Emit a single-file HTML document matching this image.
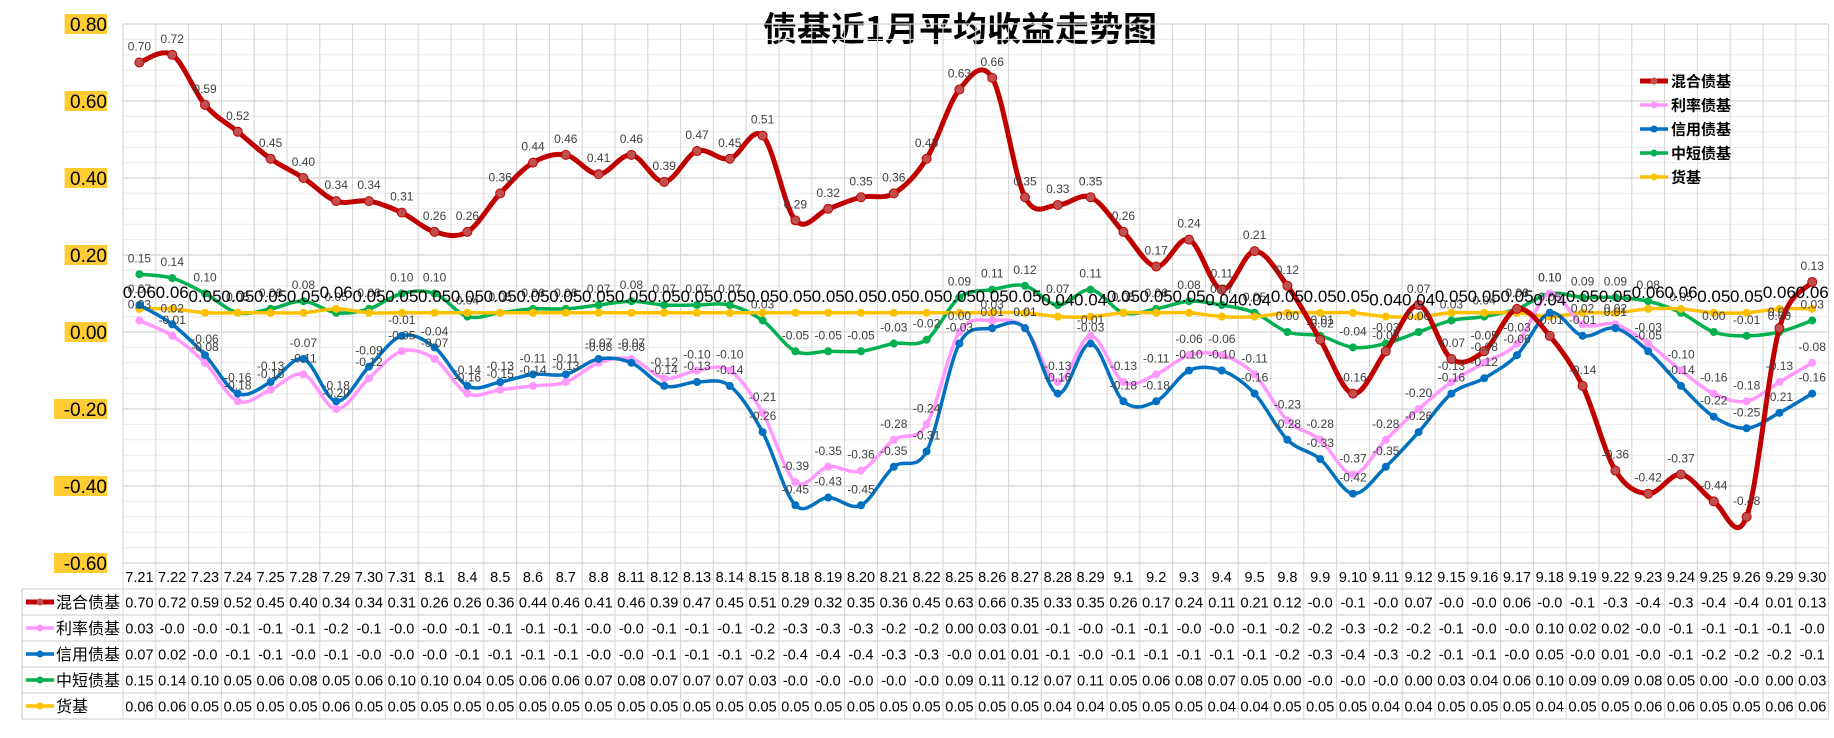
<!DOCTYPE html>
<html><head><meta charset="utf-8">
<style>
body{margin:0;background:#fff;}
svg text{font-family:"Liberation Sans","Noto Sans CJK SC",sans-serif;}
</style></head>
<body>
<svg id="chart" width="1834" height="733" viewBox="0 0 1834 733" xmlns="http://www.w3.org/2000/svg">
<rect width="1834" height="733" fill="#fff"/>
<text x="960" y="41" text-anchor="middle" font-size="34" font-weight="bold" style="font-family:'Noto Sans CJK SC',sans-serif">债基近1月平均收益走势图</text>
<g id="grid"></g><g id="yaxis"></g><g id="series"></g><g id="labels"></g><g id="table"></g><g id="legend"></g>
</svg>
<script>
const categories=["7.21","7.22","7.23","7.24","7.25","7.28","7.29","7.30","7.31","8.1","8.4","8.5","8.6","8.7","8.8","8.11","8.12","8.13","8.14","8.15","8.18","8.19","8.20","8.21","8.22","8.25","8.26","8.27","8.28","8.29","9.1","9.2","9.3","9.4","9.5","9.8","9.9","9.10","9.11","9.12","9.15","9.16","9.17","9.18","9.19","9.22","9.23","9.24","9.25","9.26","9.29","9.30"];
const seriesNames=["混合债基","利率债基","信用债基","中短债基","货基"];
const mixedVals=[0.70,0.72,0.59,0.52,0.45,0.40,0.34,0.34,0.31,0.26,0.26,0.36,0.44,0.46,0.41,0.46,0.39,0.47,0.45,0.51,0.29,0.32,0.35,0.36,0.45,0.63,0.66,0.35,0.33,0.35,0.26,0.17,0.24,0.11,0.21,0.12,-0.02,-0.16,-0.05,0.07,-0.07,-0.05,0.06,-0.01,-0.14,-0.36,-0.42,-0.37,-0.44,-0.48,0.01,0.13];
const rateVals=[0.03,-0.01,-0.08,-0.18,-0.15,-0.11,-0.20,-0.12,-0.05,-0.07,-0.16,-0.15,-0.14,-0.13,-0.08,-0.07,-0.12,-0.10,-0.10,-0.21,-0.39,-0.35,-0.36,-0.28,-0.24,0.00,0.03,0.01,-0.13,-0.01,-0.13,-0.11,-0.06,-0.06,-0.11,-0.23,-0.28,-0.37,-0.28,-0.20,-0.13,-0.08,-0.03,0.10,0.02,0.02,-0.03,-0.10,-0.16,-0.18,-0.13,-0.08];
const creditVals=[0.07,0.02,-0.06,-0.16,-0.13,-0.07,-0.18,-0.09,-0.01,-0.04,-0.14,-0.13,-0.11,-0.11,-0.07,-0.08,-0.14,-0.13,-0.14,-0.26,-0.45,-0.43,-0.45,-0.35,-0.31,-0.03,0.01,0.01,-0.16,-0.03,-0.18,-0.18,-0.10,-0.10,-0.16,-0.28,-0.33,-0.42,-0.35,-0.26,-0.16,-0.12,-0.06,0.05,-0.01,0.01,-0.05,-0.14,-0.22,-0.25,-0.21,-0.16];
const shortVals=[0.15,0.14,0.10,0.05,0.06,0.08,0.05,0.06,0.10,0.10,0.04,0.05,0.06,0.06,0.07,0.08,0.07,0.07,0.07,0.03,-0.05,-0.05,-0.05,-0.03,-0.02,0.09,0.11,0.12,0.07,0.11,0.05,0.06,0.08,0.07,0.05,0.00,-0.01,-0.04,-0.03,0.00,0.03,0.04,0.06,0.10,0.09,0.09,0.08,0.05,0.00,-0.01,0.00,0.03];
const moneyVals=[0.06,0.06,0.05,0.05,0.05,0.05,0.06,0.05,0.05,0.05,0.05,0.05,0.05,0.05,0.05,0.05,0.05,0.05,0.05,0.05,0.05,0.05,0.05,0.05,0.05,0.05,0.05,0.05,0.04,0.04,0.05,0.05,0.05,0.04,0.04,0.05,0.05,0.05,0.04,0.04,0.05,0.05,0.05,0.04,0.05,0.05,0.06,0.06,0.05,0.05,0.06,0.06];
const yTicks=[0.8,0.6,0.4,0.2,0,-0.2,-0.4,-0.6];

const NS="http://www.w3.org/2000/svg";
const PL=123,PR=1828.6,PT=24,PB=563,Y0=332,YS=385;
const colW=(PR-PL)/categories.length;
const xAt=i=>PL+colW*(i+0.5);
const yAt=v=>Y0-v*YS;
function mk(tag,attrs,parent){const e=document.createElementNS(NS,tag);for(const k in attrs)e.setAttribute(k,attrs[k]);parent.appendChild(e);return e;}
const grid=document.getElementById('grid');
for(let v=-0.6;v<=0.8001;v+=0.04){const y=yAt(v);const major=Math.abs(Math.round(v*100)%20)<0.5;
 const l=mk('line',{x1:PL,x2:PR,y1:y,y2:y,stroke:major?'#d4d4d4':'#ececec','stroke-width':major?1.3:1},grid);
 
 }
for(let i=0;i<=categories.length;i++){const x=PL+colW*i;
 const l=mk('line',{x1:x,x2:x,y1:PT,y2:719,stroke:'#d4d4d4','stroke-width':1},grid);
 
 }
mk('line',{x1:PL,x2:PL,y1:PT,y2:PB,stroke:'#bcd4ea','stroke-width':1},grid);
const yax=document.getElementById('yaxis');
yTicks.forEach(v=>{const y=yAt(v);const t=v.toFixed(2);
 const r=mk('rect',{x:107-t.length*10.6,y:y-10,width:t.length*10.6,height:20,fill:'#FFCC33'},yax);
 
 
 const tx=mk('text',{x:107,y:y+7,'text-anchor':'end','font-size':19,fill:'#000'},yax);tx.textContent=t;
 
 });
const allSeries=[mixedVals,rateVals,creditVals,shortVals,moneyVals];
const colors=["#C00000","#FF99FF","#0070C0","#00B050","#FFC000"];
const widths=[5,3.5,3.5,3.5,3.5];
const sg=document.getElementById('series'),lg=document.getElementById('labels');
function spline(pts){let d=`M${pts[0][0]},${pts[0][1]}`;for(let i=0;i<pts.length-1;i++){const p0=pts[i-1]||pts[i],p1=pts[i],p2=pts[i+1],p3=pts[i+2]||p2;
 const c1=[p1[0]+(p2[0]-p0[0])/6,p1[1]+(p2[1]-p0[1])/6],c2=[p2[0]-(p3[0]-p1[0])/6,p2[1]-(p3[1]-p1[1])/6];
 d+=` C${c1[0]},${c1[1]} ${c2[0]},${c2[1]} ${p2[0]},${p2[1]}`;}return d;}
const order=[3,4,1,2,0];
order.forEach(s=>{const vals=allSeries[s];const pts=vals.map((v,i)=>[xAt(i),yAt(v)]);
 const p=mk('path',{d:spline(pts),fill:'none',stroke:colors[s],'stroke-width':widths[s],'stroke-linejoin':'round'},sg);
 
 
 pts.forEach((pt,i)=>{const c=mk('circle',{cx:pt[0],cy:pt[1],r:s==0?4.5:4,fill:s==0?'#C0504D':colors[s],stroke:s==0?'#C00000':'none'},sg);
  
  
  const big=s==4;
  const t=mk('text',{x:pt[0],y:pt[1]-(big?11:12),'text-anchor':'middle','font-size':big?17:12,fill:big?'#000':'#404040'},lg);
  t.textContent=vals[i].toFixed(2);
  
  });});
const tb=document.getElementById('table');
categories.forEach((c,i)=>{const t=mk('text',{x:xAt(i),y:582,'text-anchor':'middle','font-size':14.5,fill:'#000'},tb);t.textContent=c;
 
 });
for(let r=0;r<=5;r++){const y=589+26*r;mk('line',{x1:22,x2:PR,y1:y,y2:y,stroke:'#d4d4d4','stroke-width':1.2},tb);}
mk('line',{x1:22,x2:22,y1:589,y2:719,stroke:'#d4d4d4','stroke-width':1.2},tb);
function fmt(v){const s=v.toFixed(2);return s.slice(0,4);}
allSeries.forEach((vals,s)=>{const yc=589+26*s+13;
 mk('line',{x1:26,x2:54,y1:yc,y2:yc,stroke:colors[s],'stroke-width':widths[s]},tb);
 mk('circle',{cx:40,cy:yc,r:3.5,fill:s==0?'#C0504D':colors[s]},tb);
 const n=mk('text',{x:56,y:yc+6,'font-size':16,fill:'#000'},tb);n.textContent=seriesNames[s];
 
 
 vals.forEach((v,i)=>{const t=mk('text',{x:xAt(i),y:yc+5.5,'text-anchor':'middle','font-size':14.5,fill:'#000'},tb);t.textContent=fmt(v);
  
  });});
const lgd=document.getElementById('legend');
seriesNames.forEach((n,s)=>{const y=81+24*s;
 const l=mk('line',{x1:1640,x2:1668,y1:y,y2:y,stroke:colors[s],'stroke-width':widths[s]},lgd);
 
 
 mk('circle',{cx:1654,cy:y,r:3.5,fill:s==0?'#C0504D':colors[s]},lgd);
 const t=mk('text',{x:1671,y:y+5.5,'font-size':15,'font-weight':'bold',fill:'#000'},lgd);t.textContent=n;
 
 });
</script>
</body></html>
